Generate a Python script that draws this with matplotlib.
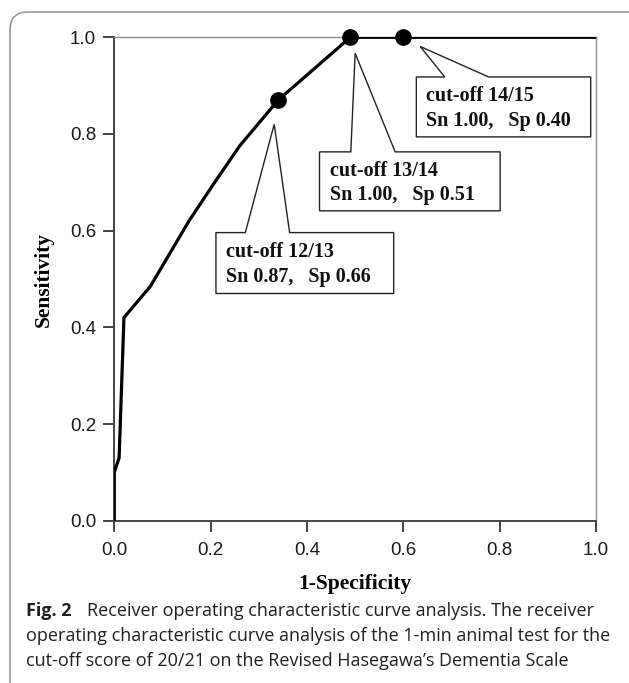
import matplotlib
matplotlib.use("Agg")
import matplotlib.pyplot as plt
from matplotlib.patches import Polygon, FancyBboxPatch
from matplotlib.transforms import IdentityTransform

# ROC curve (1-specificity vs sensitivity)
fpr = [0.0, 0.0, 0.01, 0.02, 0.075, 0.155, 0.205, 0.26, 0.34, 0.49, 1.0]
tpr = [0.0, 0.10, 0.13, 0.42, 0.485, 0.62, 0.695, 0.775, 0.87, 1.0, 1.0]

# highlighted cut-off points
cut_labels = ["cut-off 12/13", "cut-off 13/14", "cut-off 14/15"]
cut_sn = [0.87, 1.00, 1.00]
cut_sp = [0.66, 0.51, 0.40]

# callout boxes in data coords: (x0, x1, y0, y1, base_left, base_right, tip_x, tip_y)
callouts = [
    (0.211, 0.580, 0.470, 0.596, 0.272, 0.364, 0.332, 0.820),
    (0.426, 0.801, 0.641, 0.763, 0.491, 0.583, 0.500, 0.967),
    (0.627, 0.989, 0.794, 0.918, 0.686, 0.777, 0.635, 0.981),
]

ticks = [0.0, 0.2, 0.4, 0.6, 0.8, 1.0]
caption_bold = "Fig. 2"
caption_lines = [
    "Receiver operating characteristic curve analysis. The receiver",
    "operating characteristic curve analysis of the 1-min animal test for the",
    "cut-off score of 20/21 on the Revised Hasegawa\u2019s Dementia Scale",
]

W, H = 629, 683
fig = plt.figure(figsize=(W / 100, H / 100), dpi=100)

# rounded frame around figure
frame = FancyBboxPatch((10, -20), 650, H - 12 + 20, boxstyle="round,pad=0,rounding_size=18",
                       transform=IdentityTransform(), fill=False, edgecolor="#9a9a9a", lw=1.2)
fig.patches.append(frame)

ax = fig.add_axes([114.3 / W, 1 - 520.7 / H, 481.7 / W, 483.4 / H])
ax.plot(fpr, tpr, color="black", lw=2.3, zorder=3)
ax.plot([1 - s for s in cut_sp], cut_sn, "o", color="black", ms=11, zorder=4, clip_on=False)

ax.set_xlim(0, 1)
ax.set_ylim(0, 1)
ax.set_xticks(ticks)
ax.set_yticks(ticks)
ax.set_xticklabels([f"{t:.1f}" for t in ticks])
ax.set_yticklabels([f"{t:.1f}" for t in ticks])
ax.tick_params(axis="both", direction="out", length=8, width=1.3, color="#333333",
               labelsize=13.5, labelcolor="#1a1a1a")
ax.tick_params(axis="y", pad=5)
ax.tick_params(axis="x", pad=7)
for lab in ax.get_xticklabels() + ax.get_yticklabels():
    lab.set_family("Liberation Sans")
for s in ["left", "bottom"]:
    ax.spines[s].set_color("#444444")
    ax.spines[s].set_linewidth(1.4)
for s in ["top", "right"]:
    ax.spines[s].set_color("#8a8a8a")
    ax.spines[s].set_linewidth(1.0)

ax.set_xlabel("1-Specificity", family="Liberation Serif", weight="bold", fontsize=15.5, labelpad=11)
ax.set_ylabel("Sensitivity", family="Liberation Serif", weight="bold", fontsize=15.5, labelpad=12)

for lab, sn, sp, c in zip(cut_labels, cut_sn, cut_sp, callouts):
    x0, x1, y0, y1, bl, br, tx, ty = c
    poly = Polygon([(x0, y0), (x1, y0), (x1, y1), (br, y1), (tx, ty), (bl, y1), (x0, y1)],
                   closed=True, facecolor="white", edgecolor="#222222", lw=1.0, zorder=5,
                   clip_on=False)
    ax.add_patch(poly)
    ax.text(x0 + 0.021, (y0 + y1) / 2 - 0.003, f"{lab}\nSn {sn:.2f},   Sp {sp:.2f}",
            family="Liberation Serif", weight="bold", fontsize=14.5, va="center", ha="left",
            linespacing=1.3, zorder=6, color="#111111")

fig.text(26 / W, 1 - 611 / H, caption_bold, family="Open Sans", weight="bold",
         fontsize=13, va="center", ha="left", color="#231f20")
fig.text(87 / W, 1 - 611 / H, caption_lines[0], family="Open Sans",
         fontsize=13, va="center", ha="left", color="#231f20")
fig.text(26 / W, 1 - 636 / H, caption_lines[1], family="Open Sans",
         fontsize=13, va="center", ha="left", color="#231f20")
fig.text(26 / W, 1 - 661 / H, caption_lines[2], family="Open Sans",
         fontsize=13, va="center", ha="left", color="#231f20")

fig.savefig("out.png", dpi=100)
